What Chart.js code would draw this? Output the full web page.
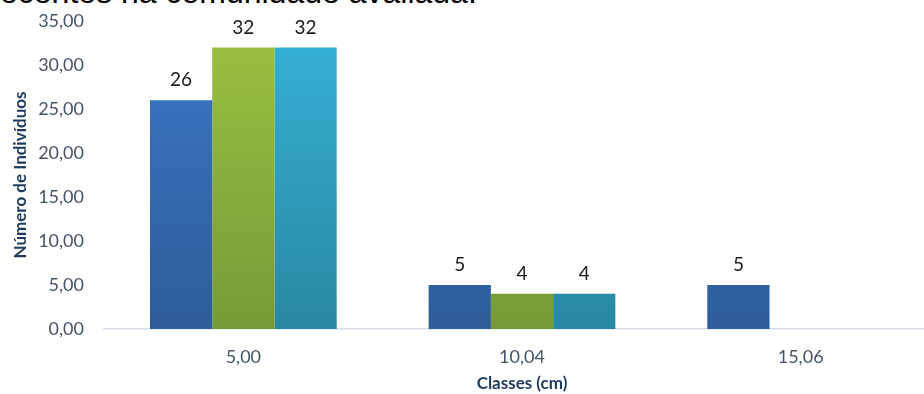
<!DOCTYPE html>
<html>
<head>
<meta charset="utf-8">
<script src="https://cdn.jsdelivr.net/npm/chart.js@4/dist/chart.umd.min.js"></script>
<style>
  html, body { margin: 0; padding: 0; background: #fff; overflow: hidden; }
  body { width: 924px; height: 394px; position: relative; }
  #topText {
    position: absolute; left: 0; top: -24px; white-space: nowrap;
    font-family: "Liberation Sans", Arial, sans-serif; font-size: 32px; line-height: 32px; color: #000;
  }
  #wrap { position: absolute; left: 0; top: 0; width: 940px; height: 394px; }
</style>
</head>
<body>
<div id="topText">ecentes na comunidade avaliada.</div>
<div id="wrap"><canvas id="chart"></canvas></div>
<script>
  // ====== DATOS ======
  const classes  = ['5,00', '10,04', '15,06'];
  const serieA   = [26, 5, 5];
  const serieB   = [32, 4, null];
  const serieC   = [32, 4, null];
  const yTicks   = [0, 5, 10, 15, 20, 25, 30, 35];

  const FONT = 'Lato, "Open Sans", sans-serif';

  // gradientes verticales como no Excel
  const grad = (top, bottom) => (ctx) => {
    const { chart } = ctx;
    const area = chart.chartArea;
    if (!area) return top;
    const g = chart.ctx.createLinearGradient(0, area.top, 0, area.bottom);
    g.addColorStop(0, top);
    g.addColorStop(1, bottom);
    return g;
  };

  // ====== ETIQUETAS DE VALORES ======
  const valueLabels = {
    id: 'valueLabels',
    afterDatasetsDraw(chart) {
      const { ctx } = chart;
      ctx.save();
      ctx.font = '19px ' + FONT;
      ctx.fillStyle = '#1a1a1a';
      ctx.textAlign = 'center';
      ctx.textBaseline = 'middle';
      chart.data.datasets.forEach((ds, i) => {
        chart.getDatasetMeta(i).data.forEach((bar, j) => {
          const v = ds.data[j];
          if (v == null) return;
          ctx.fillText(String(v), bar.x, bar.y - 20);
        });
      });
      ctx.restore();
    }
  };

  new Chart(document.getElementById('chart'), {
    type: 'bar',
    data: {
      labels: classes,
      datasets: [
        { label: 'A', data: serieA, backgroundColor: grad('#3b78c9', '#2d5c98') },
        { label: 'B', data: serieB, backgroundColor: grad('#9cc240', '#779a38') },
        { label: 'C', data: serieC, backgroundColor: grad('#36b2d8', '#2888a2') }
      ]
    },
    options: {
      responsive: true,
      maintainAspectRatio: false,
      animation: false,
      layout: { padding: { top: 21, left: 0, right: 0, bottom: 0 } },
      datasets: { bar: { categoryPercentage: 0.67, barPercentage: 1.0, borderWidth: 0 } },
      plugins: { legend: { display: false }, tooltip: { enabled: false } },
      scales: {
        x: {
          grid: { display: false, drawTicks: false },
          border: { display: true, color: '#d6dee8', width: 1.5 },
          ticks: { color: '#44546a', font: { family: FONT, size: 18 }, padding: 17 },
          title: {
            display: true, text: 'Classes (cm)', color: '#1f3a5f',
            font: { family: FONT, size: 17, weight: 'bold' }, padding: { top: 4, bottom: 0 }
          },
          afterFit: (s) => { s.height = 65; }
        },
        y: {
          min: 0, max: 35,
          afterBuildTicks: (s) => { s.ticks = yTicks.map(v => ({ value: v })); },
          grid: { display: false, drawTicks: false },
          border: { display: false },
          ticks: {
            color: '#44546a', font: { family: FONT, size: 18 }, padding: 20,
            callback: (v) => Number(v).toFixed(2).replace('.', ',')
          },
          title: {
            display: true, text: 'Número de Indivíduos', color: '#1f3a5f',
            font: { family: FONT, size: 17, weight: 'bold' }, padding: { top: 10, bottom: 4 }
          },
          afterFit: (s) => { s.width = 104; s.paddingTop = 0; s.paddingBottom = 0; }
        }
      }
    },
    plugins: [valueLabels]
  });
</script>
</body>
</html>
